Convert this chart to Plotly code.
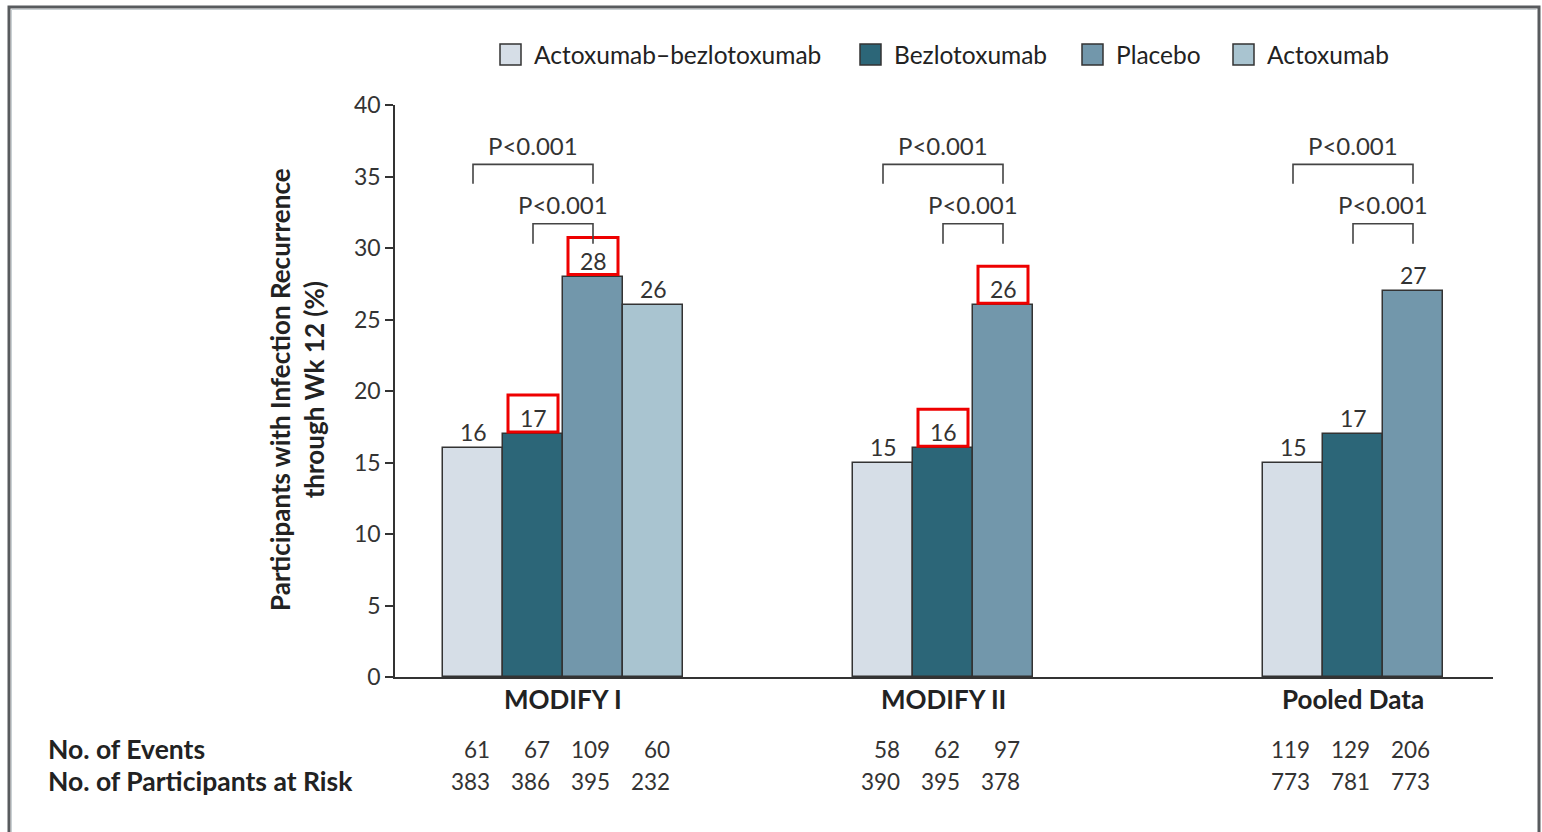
import plotly.graph_objects as go

# ---------------- data ----------------
groups = ["MODIFY I", "MODIFY II", "Pooled Data"]
series_names = ["Actoxumab–bezlotoxumab", "Bezlotoxumab", "Placebo", "Actoxumab"]
actox_bezlo = [16, 15, 15]
bezlo = [17, 16, 17]
placebo = [28, 26, 27]
actox = [26, None, None]
events_actox_bezlo = [61, 58, 119]
events_bezlo = [67, 62, 129]
events_placebo = [109, 97, 206]
events_actox = [60, None, None]
risk_actox_bezlo = [383, 390, 773]
risk_bezlo = [386, 395, 781]
risk_placebo = [395, 378, 773]
risk_actox = [232, None, None]
# labels boxed in red: (group index, series index)
highlighted = [(0, 1), (0, 2), (1, 1), (1, 2)]
p_label = "P<0.001"

values = [actox_bezlo, bezlo, placebo, actox]
events = [events_actox_bezlo, events_bezlo, events_placebo, events_actox]
risks = [risk_actox_bezlo, risk_bezlo, risk_placebo, risk_actox]

# ---------------- layout constants ----------------
colors = ["#d6dee7", "#2c6678", "#7297ab", "#a9c4d0"]
outline = "#333333"
txt = "#333333"
dark = "#222222"
FONT = "Lato"
W, H = 1542, 832
PX0, PX1, PY0, PY1 = 395, 1493, 105, 677   # plot area in screen px
L, T = PX0, PY0
R = W - PX1
B = H - PY1
PW, PH = PX1 - PX0, PY1 - PY0
group_center = [168, 548, 958]   # x-axis units = px from plot left
bar_w = 60

def py(sy):
    return (PY1 - sy) / PH

def pxp(sx):
    return (sx - PX0) / PW

# bar positions
positions = [[None] * len(groups) for _ in series_names]
for g in range(len(groups)):
    present = [s for s in range(len(series_names)) if values[s][g] is not None]
    n = len(present)
    for k, s in enumerate(present):
        positions[s][g] = group_center[g] + (k - (n - 1) / 2) * bar_w

fig = go.Figure()
for s, name in enumerate(series_names):
    xs = [positions[s][g] for g in range(len(groups)) if values[s][g] is not None]
    ys = [values[s][g] for g in range(len(groups)) if values[s][g] is not None]
    fig.add_trace(go.Bar(
        x=xs, y=ys, width=bar_w, name=name, showlegend=False,
        marker=dict(color=colors[s], line=dict(color=outline, width=1.5)),
    ))

annotations = []
shapes = []

# value labels + red boxes
for s in range(len(series_names)):
    for g in range(len(groups)):
        v = values[s][g]
        if v is None:
            continue
        x = positions[s][g]
        annotations.append(dict(x=x, y=v, xref="x", yref="y", text=str(v), showarrow=False,
                                yanchor="bottom", yshift=0, font=dict(family=FONT, size=23, color=txt)))
        if (g, s) in highlighted:
            shapes.append(dict(type="rect", xref="x", yref="y", ysizemode="pixel", yanchor=v,
                               x0=x - 25, x1=x + 25, y0=2, y1=39,
                               line=dict(color="#ee0000", width=3), fillcolor="rgba(0,0,0,0)"))

# significance brackets
for g in range(len(groups)):
    xa, xb, xc = positions[0][g], positions[1][g], positions[2][g]
    for (x0, x1, ytop, ybot, ytext) in [(xa, xc, 35.85, 34.5, 37.15), (xb, xc, 31.7, 30.3, 33.05)]:
        shapes.append(dict(type="path", xref="x", yref="y",
                           path=f"M {x0},{ybot} L {x0},{ytop} L {x1},{ytop} L {x1},{ybot}",
                           line=dict(color="#444444", width=1.6)))
        annotations.append(dict(x=(x0 + x1) / 2, y=ytext, xref="x", yref="y", text=p_label,
                                showarrow=False, yanchor="middle",
                                font=dict(family=FONT, size=24, color=txt)))

# group labels
for g, name in enumerate(groups):
    annotations.append(dict(x=group_center[g], y=py(699), xref="x", yref="paper",
                            text=f"<b>{name}</b>", showarrow=False, yanchor="middle",
                            font=dict(family=FONT, size=26, color=dark)))

# table
for label, sy in [("No. of Events", 749), ("No. of Participants at Risk", 781)]:
    annotations.append(dict(x=pxp(46), y=py(sy), xref="paper", yref="paper",
                            text=f"<b>{label}</b>", showarrow=False, xanchor="left", yanchor="middle",
                            font=dict(family=FONT, size=26.5, color=dark)))
for s in range(len(series_names)):
    for g in range(len(groups)):
        if events[s][g] is None:
            continue
        x = positions[s][g] + 19
        annotations.append(dict(x=x, y=py(749), xref="x", yref="paper", text=str(events[s][g]),
                                showarrow=False, xanchor="right", yanchor="middle",
                                font=dict(family=FONT, size=22.5, color=txt)))
        annotations.append(dict(x=x, y=py(781), xref="x", yref="paper", text=str(risks[s][g]),
                                showarrow=False, xanchor="right", yanchor="middle",
                                font=dict(family=FONT, size=22.5, color=txt)))

# y title
annotations.append(dict(x=pxp(297), y=py(390), xref="paper", yref="paper",
                        text="<b>Participants with Infection Recurrence<br>through Wk 12 (%)</b>",
                        textangle=-90, showarrow=False, xanchor="center", yanchor="middle",
                        font=dict(family=FONT, size=26, color=dark)))

# legend (manual)
legend_sq_x = [500, 860, 1082, 1233]
for s, name in enumerate(series_names):
    x0 = legend_sq_x[s]
    shapes.append(dict(type="rect", xref="paper", yref="paper",
                       x0=pxp(x0), x1=pxp(x0 + 21), y0=py(65), y1=py(44),
                       fillcolor=colors[s], line=dict(color=outline, width=1.5)))
    annotations.append(dict(x=pxp(x0 + 32), y=py(54), xref="paper", yref="paper", text=name,
                            showarrow=False, xanchor="left", yanchor="middle",
                            font=dict(family=FONT, size=24.5, color=dark)))

# frame
shapes.append(dict(type="path", xref="paper", yref="paper",
                   path=f"M {pxp(9)},{py(900)} L {pxp(9)},{py(7)} L {pxp(1539)},{py(7)} L {pxp(1539)},{py(900)}",
                   line=dict(color="#585b5e", width=3)))
shapes.append(dict(type="path", xref="paper", yref="paper",
                   path=f"M {pxp(11.5)},{py(900)} L {pxp(11.5)},{py(9.5)} L {pxp(1536.5)},{py(9.5)}",
                   line=dict(color="#c9d0d3", width=1)))

fig.update_layout(
    width=W, height=H,
    margin=dict(l=L, r=R, t=T, b=B, autoexpand=False),
    paper_bgcolor="white", plot_bgcolor="white",
    showlegend=False,
    xaxis=dict(range=[0, PW], showline=True, linecolor="#333333", linewidth=1.5,
               showticklabels=False, ticks="", showgrid=False, zeroline=False, fixedrange=True),
    yaxis=dict(range=[0, 40], tickvals=[0, 5, 10, 15, 20, 25, 30, 35, 40], showline=True,
               linecolor="#333333", linewidth=1.5, ticks="outside", ticklen=8, tickwidth=1.5,
               tickcolor="#333333", showgrid=False, zeroline=False,
               tickfont=dict(family=FONT, size=23, color=txt), fixedrange=True),
    annotations=annotations, shapes=shapes,
    bargap=0,
)

fig.write_html("out.html", config={"displayModeBar": False},
               post_script="document.body.style.margin='0';document.body.style.overflow='hidden';")
